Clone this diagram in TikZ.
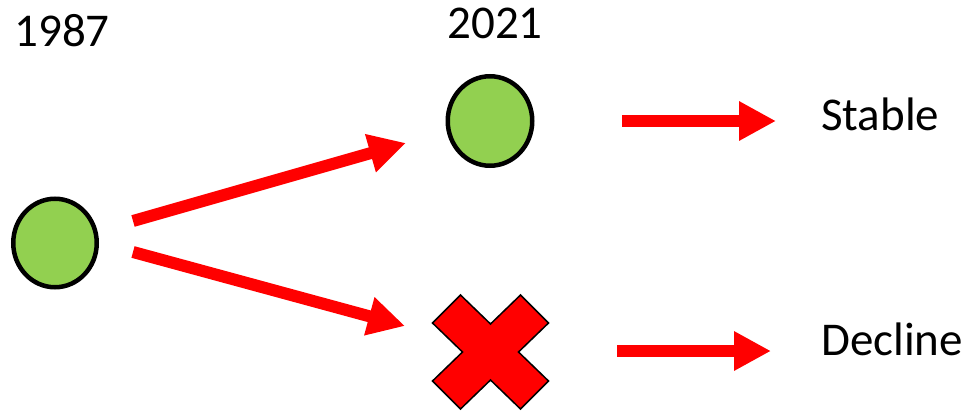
\documentclass[tikz,border=0pt]{standalone}
\usepackage{fontspec}
\setmainfont{Carlito}
\usetikzlibrary{arrows.meta,shapes.geometric}
\definecolor{leafgreen}{HTML}{92D050}
\definecolor{alarmred}{HTML}{FF0000}
\tikzset{
  site/.style={ellipse, draw=black, line width=4.5pt, fill=leafgreen, inner sep=0pt},
  trend/.style={draw=alarmred, line width=12pt, line cap=butt,
    -{Triangle[length=37pt,width=37pt]}},
  label/.style={font=\fontsize{47}{56}\selectfont, inner sep=0pt, anchor=base},
}
\begin{document}
\begin{tikzpicture}[x=1pt,y=-1pt]
  \useasboundingbox (0,0) rectangle (968,412);

  % years
  \node[label] (y87) at (62,47) {1987};
  \node[label] (y21) at (495,39) {2021};

  % populations
  \node[site, minimum width=83.5pt, minimum height=88.5pt] (c87) at (55,243) {};
  \node[site, minimum width=84.5pt, minimum height=89.5pt] (c21) at (490,121) {};

  % lost population
  \coordinate (lost) at (490.5,352);
  \draw[fill=alarmred, draw=black, line width=1.5pt, line join=miter]
    (lost) ++(-30,-57) -- ++(30,29) -- ++(30,-29) -- ++(28,28)
    -- ++(-30,29) -- ++(30,29) -- ++(-28,28) -- ++(-30,-29)
    -- ++(-30,29) -- ++(-28,-28) -- ++(30,-29) -- ++(-30,-29) -- cycle;

  % outcomes
  \node[label, anchor=base west] (stable) at (821,130) {Stable};
  \node[label, anchor=base west] (decline) at (821,355) {Decline};

  % connector ends
  \coordinate (s1) at (133,221);
  \coordinate (e1) at (406,143);
  \coordinate (s2) at (133,252);
  \coordinate (e2) at (405,326);
  \coordinate (s3) at (622,121);
  \coordinate (e3) at (776,121);
  \coordinate (s4) at (617,351);
  \coordinate (e4) at (771,351);

  \draw[trend] (s1) -- (e1);
  \draw[trend] (s2) -- (e2);
  \draw[trend] (s3) -- (e3);
  \draw[trend] (s4) -- (e4);
\end{tikzpicture}
\end{document}
